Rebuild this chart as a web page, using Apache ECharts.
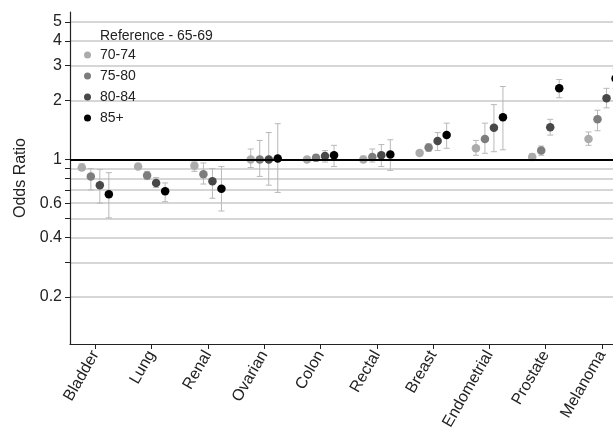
<!DOCTYPE html>
<html>
<head>
<meta charset="utf-8">
<script src="https://cdn.jsdelivr.net/npm/echarts@6/dist/echarts.min.js"></script>
<style>
  html, body { margin: 0; padding: 0; background: #fff; }
  #chart { width: 613px; height: 434px; }
</style>
</head>
<body>
<div id="chart"></div>
<script>
// categories and age groups
const categories = ["Bladder", "Lung", "Renal", "Ovarian", "Colon", "Rectal", "Breast", "Endometrial", "Prostate", "Melanoma"];
const groups = ["70-74", "75-80", "80-84", "85+"];

// odds ratios (point estimate, lower CI, upper CI)
const or7074 = [0.91, 0.92, 0.93, 1.0, 1.0, 1.0, 1.08, 1.14, 1.03, 1.27];
const lo7074 = [0.88, 0.89, 0.87, 0.91, 0.97, 0.97, 1.05, 1.05, 1.0, 1.18];
const hi7074 = [0.95, 0.95, 0.97, 1.13, 1.03, 1.04, 1.11, 1.25, 1.07, 1.38];

const or7580 = [0.82, 0.83, 0.84, 1.0, 1.02, 1.03, 1.15, 1.27, 1.11, 1.6];
const lo7580 = [0.70, 0.79, 0.75, 0.82, 0.98, 0.97, 1.1, 1.075, 1.05, 1.4];
const hi7580 = [0.90, 0.87, 0.96, 1.25, 1.06, 1.13, 1.2, 1.53, 1.17, 1.78];

const or8084 = [0.74, 0.76, 0.775, 1.0, 1.04, 1.05, 1.24, 1.45, 1.46, 2.05];
const lo8084 = [0.60, 0.72, 0.635, 0.74, 0.97, 0.92, 1.11, 1.095, 1.33, 1.83];
const hi8084 = [0.89, 0.81, 0.90, 1.37, 1.11, 1.19, 1.37, 1.9, 1.6, 2.3];

const or85 = [0.665, 0.69, 0.71, 1.01, 1.05, 1.06, 1.33, 1.64, 2.3, 2.58];
const lo85 = [0.505, 0.61, 0.547, 0.68, 0.92, 0.88, 1.14, 1.12, 2.06, 2.3];
const hi85 = [0.857, 0.76, 0.92, 1.52, 1.18, 1.26, 1.53, 2.35, 2.55, 2.9];

// y axis ticks
const tickValues = [0.2, 0.3, 0.4, 0.5, 0.6, 0.7, 0.8, 0.9, 1, 2, 3, 4, 5];
const labelValues = [0.2, 0.4, 0.6, 1, 2, 3, 4, 5];

const estimates = [or7074, or7580, or8084, or85];
const lowers = [lo7074, lo7580, lo8084, lo85];
const uppers = [hi7074, hi7580, hi8084, hi85];
const colors = ["#ababab", "#7d7d7d", "#484848", "#000000"];
const offsets = [-0.24, -0.08, 0.08, 0.24];

const log = v => Math.log10(v);

const chart = echarts.init(document.getElementById("chart"));

let series = [];

// error bars
groups.forEach((g, s) => {
  series.push({
    name: g + " CI",
    type: "custom",
    silent: true,
    clip: false,
    z: 1,
    renderItem: function (params, api) {
      const x = api.value(0);
      const top = api.coord([x, api.value(2)]);
      const bot = api.coord([x, api.value(1)]);
      const cap = 3;
      const style = { stroke: "#b8b8b8", lineWidth: 1 };
      return {
        type: "group",
        children: [
          { type: "line", shape: { x1: top[0], y1: top[1], x2: bot[0], y2: bot[1] }, style },
          { type: "line", shape: { x1: top[0] - cap, y1: top[1], x2: top[0] + cap, y2: top[1] }, style },
          { type: "line", shape: { x1: bot[0] - cap, y1: bot[1], x2: bot[0] + cap, y2: bot[1] }, style }
        ]
      };
    },
    data: categories.map((c, i) => [i + offsets[s], log(lowers[s][i]), log(uppers[s][i])])
  });
});

// point estimates
groups.forEach((g, s) => {
  let item = {
    name: g,
    type: "scatter",
    symbol: "circle",
    symbolSize: 8.5,
    clip: false,
    z: 3,
    itemStyle: { color: colors[s], opacity: 1 },
    data: categories.map((c, i) => [i + offsets[s], log(estimates[s][i])])
  };
  if (s === 0) {
    // reference line at OR = 1
    item.markLine = {
      silent: true,
      symbol: "none",
      label: { show: false },
      lineStyle: { color: "#000", width: 2, type: "solid" },
      data: [{ yAxis: 0 }]
    };
  }
  series.push(item);
});

const option = {
  backgroundColor: "#fff",
  animation: false,
  textStyle: { fontFamily: "Liberation Sans, Arial, sans-serif" },
  title: {
    text: "Reference - 65-69",
    left: 95,
    top: 24,
    textStyle: { fontSize: 14, fontWeight: "normal", color: "#222" }
  },
  legend: {
    data: groups,
    orient: "vertical",
    left: 79,
    top: 43,
    itemGap: 7,
    itemWidth: 7,
    itemHeight: 7,
    icon: "circle",
    textStyle: { fontSize: 14, color: "#222", padding: [0, 0, 0, 4] }
  },
  grid: {
    left: 70,
    right: 0,
    top: 12,
    bottom: 90
  },
  xAxis: {
    type: "value",
    min: -0.45,
    max: 9.195,
    axisLine: { show: true, onZero: false, lineStyle: { color: "#222", width: 1.2 } },
    axisTick: { show: true, length: 5, customValues: categories.map((c, i) => i), lineStyle: { color: "#222" } },
    splitLine: { show: false },
    axisLabel: {
      customValues: categories.map((c, i) => i),
      rotate: 60,
      margin: 8,
      fontSize: 16,
      color: "#222",
      formatter: v => categories[Math.round(v)]
    }
  },
  yAxis: {
    type: "value",
    min: log(0.1153),
    max: log(5.62),
    name: "Odds Ratio",
    nameLocation: "middle",
    nameGap: 40,
    nameTextStyle: { fontSize: 16, color: "#222" },
    axisLine: { show: true, onZero: false, lineStyle: { color: "#222", width: 1.2 } },
    axisTick: { show: true, length: 5, customValues: tickValues.map(log), lineStyle: { color: "#222" } },
    splitLine: { show: true, lineStyle: { color: "#c8c8c8", width: 1.5 } },
    axisLabel: {
      customValues: labelValues.map(log),
      fontSize: 16,
      color: "#222",
      margin: 8,
      formatter: v => {
        const r = Math.round(Math.pow(10, v) * 10) / 10;
        return String(r);
      }
    }
  },
  series
};

chart.setOption(option);
</script>
</body>
</html>
